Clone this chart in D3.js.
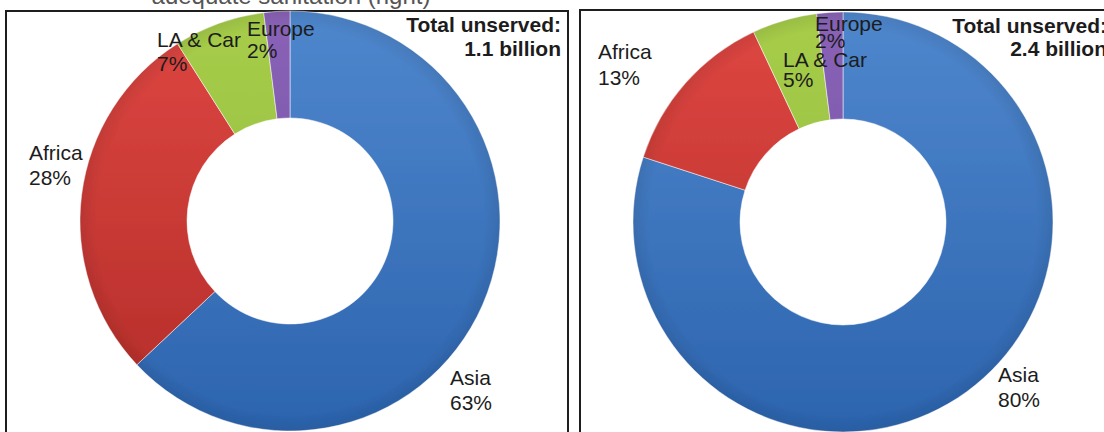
<!DOCTYPE html>
<html>
<head>
<meta charset="utf-8">
<script src="https://cdn.jsdelivr.net/npm/d3@7"></script>
<style>
  html, body { margin: 0; padding: 0; background: #fff; }
  svg { display: block; }
  text { font-family: "Liberation Sans", Arial, sans-serif; }
</style>
</head>
<body>
<svg id="chart" width="1104" height="432"></svg>
<script>
// Regions, in drawing order clockwise from twelve o'clock
const categories = ["Asia", "Africa", "LA & Car", "Europe"];
// Share of the unserved population (%) for each panel
const sharesWater = [63, 28, 7, 2];
const sharesSanitation = [80, 13, 5, 2];
const totalHeading = "Total unserved:";
const totalValues = ["1.1 billion", "2.4 billion"];
const titleLine = "adequate sanitation (right)";

// Colours per region (top / bottom of the vertical shading)
const colorTop = { "Asia": "#4f87cd", "Africa": "#df4742", "LA & Car": "#a7cd49", "Europe": "#8a63b7" };
const colorBottom = { "Asia": "#2c64ae", "Africa": "#b22c28", "LA & Car": "#8cb63c", "Europe": "#6a4a9c" };

// Layout of the two panels
const panels = [
  {
    shares: sharesWater, total: totalValues[0],
    frame: { x: 6, y: 11, w: 562, h: 440 },
    cx: 290, cy: 221, outer: 210, inner: 103,
    totalX: 561, totalY: [32, 56],
    labels: {
      "Asia":     { x: 450, y: 385, gap: 25 },
      "Africa":   { x: 29,  y: 160, gap: 25 },
      "LA & Car": { x: 157, y: 47,  gap: 24 },
      "Europe":   { x: 247, y: 36,  gap: 22 }
    }
  },
  {
    shares: sharesSanitation, total: totalValues[1],
    frame: { x: 580, y: 10, w: 540, h: 440 },
    cx: 843, cy: 222, outer: 210, inner: 103,
    totalX: 1107, totalY: [33, 56],
    labels: {
      "Asia":     { x: 998, y: 382, gap: 25 },
      "Africa":   { x: 598, y: 59,  gap: 26 },
      "LA & Car": { x: 783, y: 67,  gap: 20 },
      "Europe":   { x: 815, y: 31,  gap: 17 }
    }
  }
];

const svg = d3.select("#chart");
const defs = svg.append("defs");

// slight softness of the ring edges
defs.append("filter").attr("id", "soft")
  .append("feGaussianBlur").attr("stdDeviation", 0.6);

const pie = d3.pie().sort(null).value(d => d.value);

panels.forEach((p, pi) => {
  // panel frame
  svg.append("rect")
    .attr("x", p.frame.x).attr("y", p.frame.y)
    .attr("width", p.frame.w).attr("height", p.frame.h)
    .attr("fill", "#fff")
    .attr("stroke", "#1e1e1e").attr("stroke-width", 2);

  // vertical shading per region, in ring-centred coordinates
  categories.forEach((c, ci) => {
    const lg = defs.append("linearGradient")
      .attr("id", `grad-${pi}-${ci}`)
      .attr("gradientUnits", "userSpaceOnUse")
      .attr("x1", 0).attr("x2", 0)
      .attr("y1", -p.outer).attr("y2", p.outer);
    lg.append("stop").attr("offset", "0%").attr("stop-color", colorTop[c]);
    lg.append("stop").attr("offset", "100%").attr("stop-color", colorBottom[c]);
  });

  // faint darkening toward the outer edge
  const rim = defs.append("radialGradient")
    .attr("id", `rim-${pi}`)
    .attr("gradientUnits", "userSpaceOnUse")
    .attr("cx", 0).attr("cy", 0).attr("r", p.outer);
  rim.append("stop").attr("offset", "0%").attr("stop-color", "#000").attr("stop-opacity", 0);
  rim.append("stop").attr("offset", "92%").attr("stop-color", "#000").attr("stop-opacity", 0);
  rim.append("stop").attr("offset", "100%").attr("stop-color", "#000").attr("stop-opacity", 0.08);

  const data = categories.map((c, i) => ({ name: c, value: p.shares[i], idx: i }));
  const arcs = pie(data);
  const arc = d3.arc().innerRadius(p.inner).outerRadius(p.outer);

  const g = svg.append("g")
    .attr("transform", `translate(${p.cx},${p.cy})`)
    .attr("filter", "url(#soft)");

  g.selectAll("path.slice")
    .data(arcs)
    .join("path")
    .attr("class", "slice")
    .attr("d", arc)
    .attr("fill", d => `url(#grad-${pi}-${d.data.idx})`)
    .attr("stroke", "rgba(255,255,255,0.5)")
    .attr("stroke-width", 1);

  g.append("path")
    .attr("d", arc({ startAngle: 0, endAngle: 2 * Math.PI }))
    .attr("fill", `url(#rim-${pi})`);

  // slice labels: name and percentage on two lines
  arcs.forEach(a => {
    const L = p.labels[a.data.name];
    const t = svg.append("text")
      .attr("font-size", 21).attr("fill", "#1c1c1c");
    t.append("tspan").attr("x", L.x).attr("y", L.y).text(a.data.name);
    t.append("tspan").attr("x", L.x).attr("y", L.y + L.gap).text(`${a.data.value}%`);
  });

  // total unserved heading
  const tt = svg.append("text")
    .attr("text-anchor", "end")
    .attr("font-size", 21).attr("font-weight", "bold").attr("fill", "#1c1c1c");
  tt.append("tspan").attr("x", p.totalX).attr("y", p.totalY[0]).text(totalHeading);
  tt.append("tspan").attr("x", p.totalX).attr("y", p.totalY[1]).text(p.total);
});

// heading line above the panels (mostly cut off at the top edge)
svg.append("text")
  .attr("x", 291).attr("y", 4)
  .attr("text-anchor", "middle")
  .attr("font-size", 24).attr("fill", "#555")
  .text(titleLine);
</script>
</body>
</html>
